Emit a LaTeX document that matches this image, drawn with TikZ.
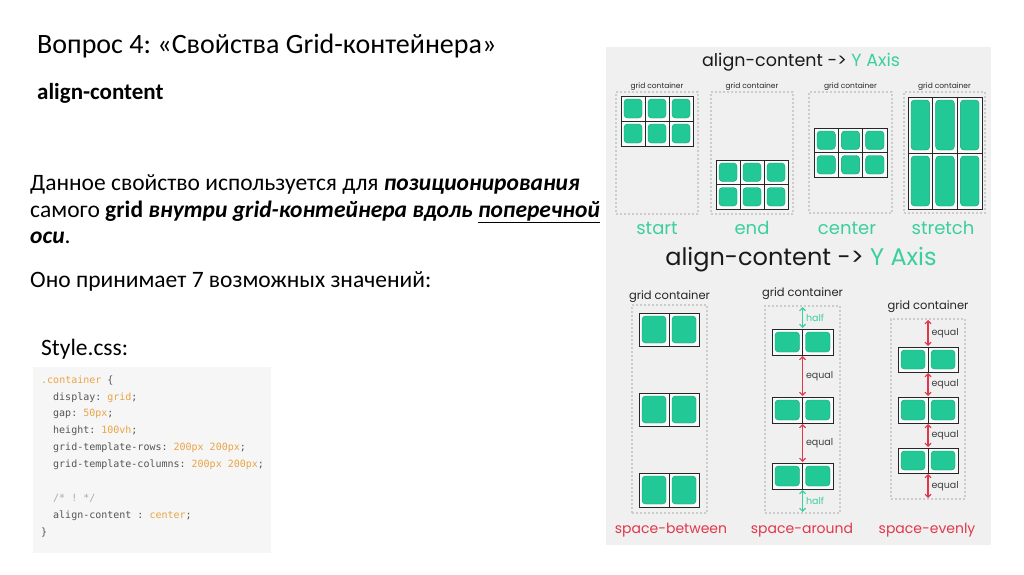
\documentclass[tikz,border=0pt]{standalone}
\usepackage{fontspec}
\setmainfont{Carlito}
\setmonofont{DejaVu Sans Mono}
\newfontfamily\popfont{Poppins}
\usepackage{xcolor}
\usepackage{tikz}
\usetikzlibrary{arrows.meta,positioning}
\frenchspacing

\definecolor{cellgreen}{HTML}{22C997}
\definecolor{celledge}{HTML}{169E75}
\definecolor{axisteal}{HTML}{3CCF9E}
\definecolor{arrred}{HTML}{E0384A}
\definecolor{panelbg}{HTML}{F0F0F0}
\definecolor{codebg}{HTML}{F6F6F6}
\definecolor{codekey}{HTML}{555555}
\definecolor{codeval}{HTML}{E9A445}
\definecolor{codecmt}{HTML}{AAAAAA}

\begin{document}
\begin{tikzpicture}[x=1pt,y=-1pt,
  txt/.style={anchor=base west,inner sep=0pt,font=\fontsize{23.5}{28}\selectfont},
  codeline/.style={anchor=base west,inner sep=0pt,text=codekey,
    font=\ttfamily\fontsize{10}{12}\selectfont},
  cbox/.style={draw=gray!40,line width=1.8pt,dash pattern=on 1.8pt off 2.2pt,
    anchor=north west,inner sep=0pt,outer sep=0pt},
  gbox/.style={fill=white!70!panelbg,anchor=north west,inner sep=0pt,outer sep=0pt},
  gcell/.style={draw=black!85,line width=1pt},
  gfill/.style={fill=cellgreen,draw=celledge,line width=0.4pt,rounded corners=3.5pt},
  gclabel/.style={inner sep=0pt,text=black!85},
  vallabel/.style={anchor=base,inner sep=0pt,text=axisteal,
    font=\popfont\fontsize{18}{21}\selectfont},
  evlabel/.style={anchor=base,inner sep=0pt,text=arrred,
    font=\popfont\fontsize{14}{17}\selectfont},
  gapar/.style={<->,line width=1.1pt,shorten <=1pt,shorten >=1pt},
  arlabel/.style={inner sep=0pt,font=\popfont\fontsize{9.5}{11}\selectfont},
  >={Straight Barb[length=3pt,width=6pt]}
]
\useasboundingbox (0,0) rectangle (1024,574);
\fill[white] (0,0) rectangle (1024,574);

\node[anchor=base west,inner sep=0pt,font=\fontsize{28}{32}\selectfont] (title)
  at (37,53) {Вопрос 4: «Свойства Grid-контейнера»};
\node[txt,font=\bfseries\fontsize{23}{28}\selectfont] (prop) at (37,99) {align-content};
\node[txt] (p1) at (30,190)
  {Данное свойство используется для \textbf{\textit{позиционирования}}};
\node[txt] (p2) at (30,217)
  {самого \textbf{grid} \textbf{\textit{внутри grid-контейнера вдоль \underline{поперечной}}}};
\node[txt] (p3) at (30,243) {\textbf{\textit{оси}}.};
\node[txt] (p4) at (30,287) {Оно принимает 7 возможных значений:};
\node[txt] (css) at (41,355) {Style.css:};

\node[fill=codebg,anchor=north west,inner sep=0pt,
      minimum width=238*1pt,minimum height=186*1pt] (codebox) at (33,367) {};
\node[codeline] (c1) at (41,383) {\textcolor{codeval}{.container} \{};
\node[codeline] (c2) at (53,400) {display: \textcolor{codeval}{grid};};
\node[codeline] (c3) at (53,416.5) {gap: \textcolor{codeval}{50px};};
\node[codeline] (c4) at (53,433) {height: \textcolor{codeval}{100vh};};
\node[codeline] (c5) at (53,450) {grid-template-rows: \textcolor{codeval}{200px 200px};};
\node[codeline] (c6) at (53,467) {grid-template-columns: \textcolor{codeval}{200px 200px};};
\node[codeline,text=codecmt] (c7) at (53,501) {/* ! */};
\node[codeline] (c8) at (53,518) {align-content : \textcolor{codeval}{center};};
\node[codeline] (c9) at (41,535) {\}};

\node[fill=panelbg,anchor=north west,inner sep=0pt,
      minimum width=385*1pt,minimum height=498*1pt] (panel) at (606,47) {};
\node[anchor=base,inner sep=0pt,font=\popfont\fontsize{17.5}{20}\selectfont,text=black!90]
  (axis1) at (801,66) {align-content -> \textcolor{axisteal}{Y Axis}};
\node[anchor=base,inner sep=0pt,font=\popfont\fontsize{24}{28}\selectfont,text=black!90]
  (axis2) at (801,265) {align-content -> \textcolor{axisteal}{Y Axis}};

\foreach \n/\xa/\ya/\w/\h in {cs/616/92/82/122, ce/711/92/82/122, cc/809/92/83/121,
    ct/904/92/81/121, cA/632/305/75/208, cB/765/306/75/207, cC/891/319/74/180}
  \node[cbox,minimum width=\w*1pt,minimum height=\h*1pt] (\n) at (\xa,\ya) {};

\foreach \n in {cs,ce,cc,ct}
  \node[gclabel,above=1.5pt of \n,font=\popfont\fontsize{7.5}{9}\selectfont] (l\n) {grid container};
\foreach \n/\d in {cA/2,cB/6,cC/6}
  \node[gclabel,above=\d pt of \n,font=\popfont\fontsize{11.5}{13}\selectfont] (l\n) {grid container};

\foreach \g/\xa/\ya/\w/\h/\c/\r in {gs/621/96/72/50/3/2, ge/716/160/72/49/3/2,
    gc/814/128/73/49/3/2, gt/908/97/74/112/3/2,
    gA1/639/313/60/33/2/1, gA2/639/393/60/33/2/1, gA3/639/473/60/34/2/1,
    gB1/772/329/61/26/2/1, gB2/772/397/61/26/2/1, gB3/772/463/61/26/2/1,
    gC1/898/347/60/25/2/1, gC2/898/397/60/26/2/1, gC3/898/448/60/25/2/1}{
  \node[gbox,minimum width=\w*1pt,minimum height=\h*1pt] (\g) at (\xa,\ya) {};
  \foreach \i in {1,...,\c}
    \foreach \j in {1,...,\r}{
      \pgfmathsetmacro\cw{\w/\c}
      \pgfmathsetmacro\ch{\h/\r}
      \draw[gcell] ({\xa+(\i-1)*\cw},{\ya+(\j-1)*\ch}) rectangle ++(\cw,\ch);
      \draw[gfill] ({\xa+(\i-1)*\cw+3},{\ya+(\j-1)*\ch+3}) rectangle ++(\cw-6,\ch-6);
    }
}

\node[vallabel] (vs) at (657,234) {start};
\node[vallabel] (ve) at (752,234) {end};
\node[vallabel] (vc) at (847,234) {center};
\node[vallabel] (vt) at (943,234) {stretch};
\node[evlabel] (eA) at (671,533) {space-between};
\node[evlabel] (eB) at (802,533) {space-around};
\node[evlabel] (eC) at (927,533) {space-evenly};

\draw[gapar,axisteal] (cB.north) -- (gB1.north)
  node[midway,right=3pt,arlabel,text=axisteal] (hB1) {half};
\draw[gapar,arrred] (gB1.south) -- (gB2.north)
  node[midway,right=3pt,arlabel,text=black!75] (qB1) {equal};
\draw[gapar,arrred] (gB2.south) -- (gB3.north)
  node[midway,right=3pt,arlabel,text=black!75] (qB2) {equal};
\draw[gapar,axisteal] (gB3.south) -- (cB.south)
  node[midway,right=3pt,arlabel,text=axisteal] (hB2) {half};

\draw[gapar,arrred] (cC.north) -- (gC1.north)
  node[midway,right=3pt,arlabel,text=black!75] (qC1) {equal};
\draw[gapar,arrred] (gC1.south) -- (gC2.north)
  node[midway,right=3pt,arlabel,text=black!75] (qC2) {equal};
\draw[gapar,arrred] (gC2.south) -- (gC3.north)
  node[midway,right=3pt,arlabel,text=black!75] (qC3) {equal};
\draw[gapar,arrred] (gC3.south) -- (cC.south)
  node[midway,right=3pt,arlabel,text=black!75] (qC4) {equal};
\end{tikzpicture}
\end{document}
